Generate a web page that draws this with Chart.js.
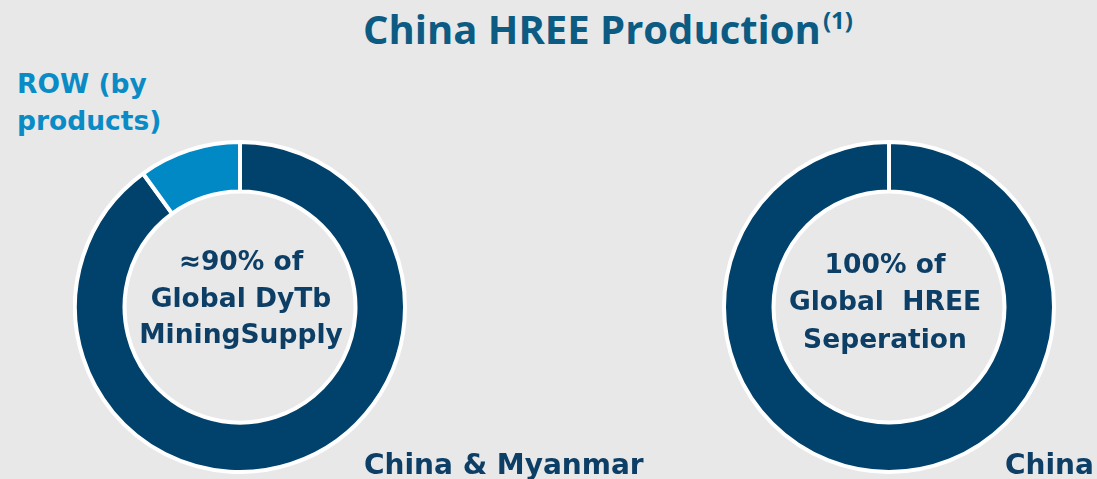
<!DOCTYPE html>
<html>
<head>
<meta charset="utf-8">
<script src="https://cdn.jsdelivr.net/npm/chart.js@4"></script>
<style>
  html, body { margin:0; padding:0; background:#e8e8e8; }
  body { width:1097px; height:479px; position:relative; overflow:hidden; }
  .box { position:absolute; }
  .txt { position:absolute; font-family:'DejaVu Sans',sans-serif; font-weight:700; white-space:nowrap; }
  #title { left:363px; top:8.8px; font-family:'Open Sans','Noto Sans',sans-serif; font-size:40px; line-height:40px; color:#0c5b83; }
  #title span { font-size:24px; position:relative; top:-15px; margin-left:2px; }
  .center { text-align:center; color:#0d3f66; font-size:26.5px; width:300px; }
</style>
</head>
<body>
<div id="title" class="txt">China HREE Production<span>(1)</span></div>
<div class="txt" id="rowLbl" style="left:17px; top:65px; color:#0a8bc6; font-size:26.5px; line-height:37px;">ROW (by<br>products)</div>
<div class="box" style="left:73px; top:140px; width:334px; height:334px;"><canvas id="c1"></canvas></div>
<div class="box" style="left:722px; top:140px; width:334px; height:334px;"><canvas id="c2"></canvas></div>
<div class="txt center" style="left:91px; top:243.4px; line-height:36.3px;">≈90% of<br>Global DyTb<br>MiningSupply</div>
<div class="txt center" style="left:735px; top:244.8px; line-height:37.5px;">100% of<br>Global&nbsp; HREE<br>Seperation</div>
<div class="txt" style="left:364px; top:448.3px; color:#0d3f66; font-size:28px; line-height:34px;">China &amp; Myanmar</div>
<div class="txt" style="left:1005px; top:448.3px; color:#0d3f66; font-size:28px; line-height:34px;">China</div>
<script>
const miningLabels = ['China & Myanmar', 'ROW (by products)'];
const miningShare = [90, 10];
const separationLabels = ['China'];
const separationShare = [100];
const navy = '#00426b';
const lightBlue = '#0089c4';

function makeDonut(id, labels, values, colors) {
  return new Chart(document.getElementById(id), {
    type: 'doughnut',
    data: { labels: labels, datasets: [{ data: values, backgroundColor: colors, borderColor: '#ffffff', borderWidth: 4 }] },
    options: {
      responsive: true, maintainAspectRatio: false, animation: false,
      cutout: '70%',
      layout: { padding: 0 },
      plugins: { legend: { display: false }, tooltip: { enabled: false }, title: { display: false } },
      events: []
    }
  });
}
makeDonut('c1', miningLabels, miningShare, [navy, lightBlue]);
makeDonut('c2', separationLabels, separationShare, [navy]);
</script>
</body>
</html>
